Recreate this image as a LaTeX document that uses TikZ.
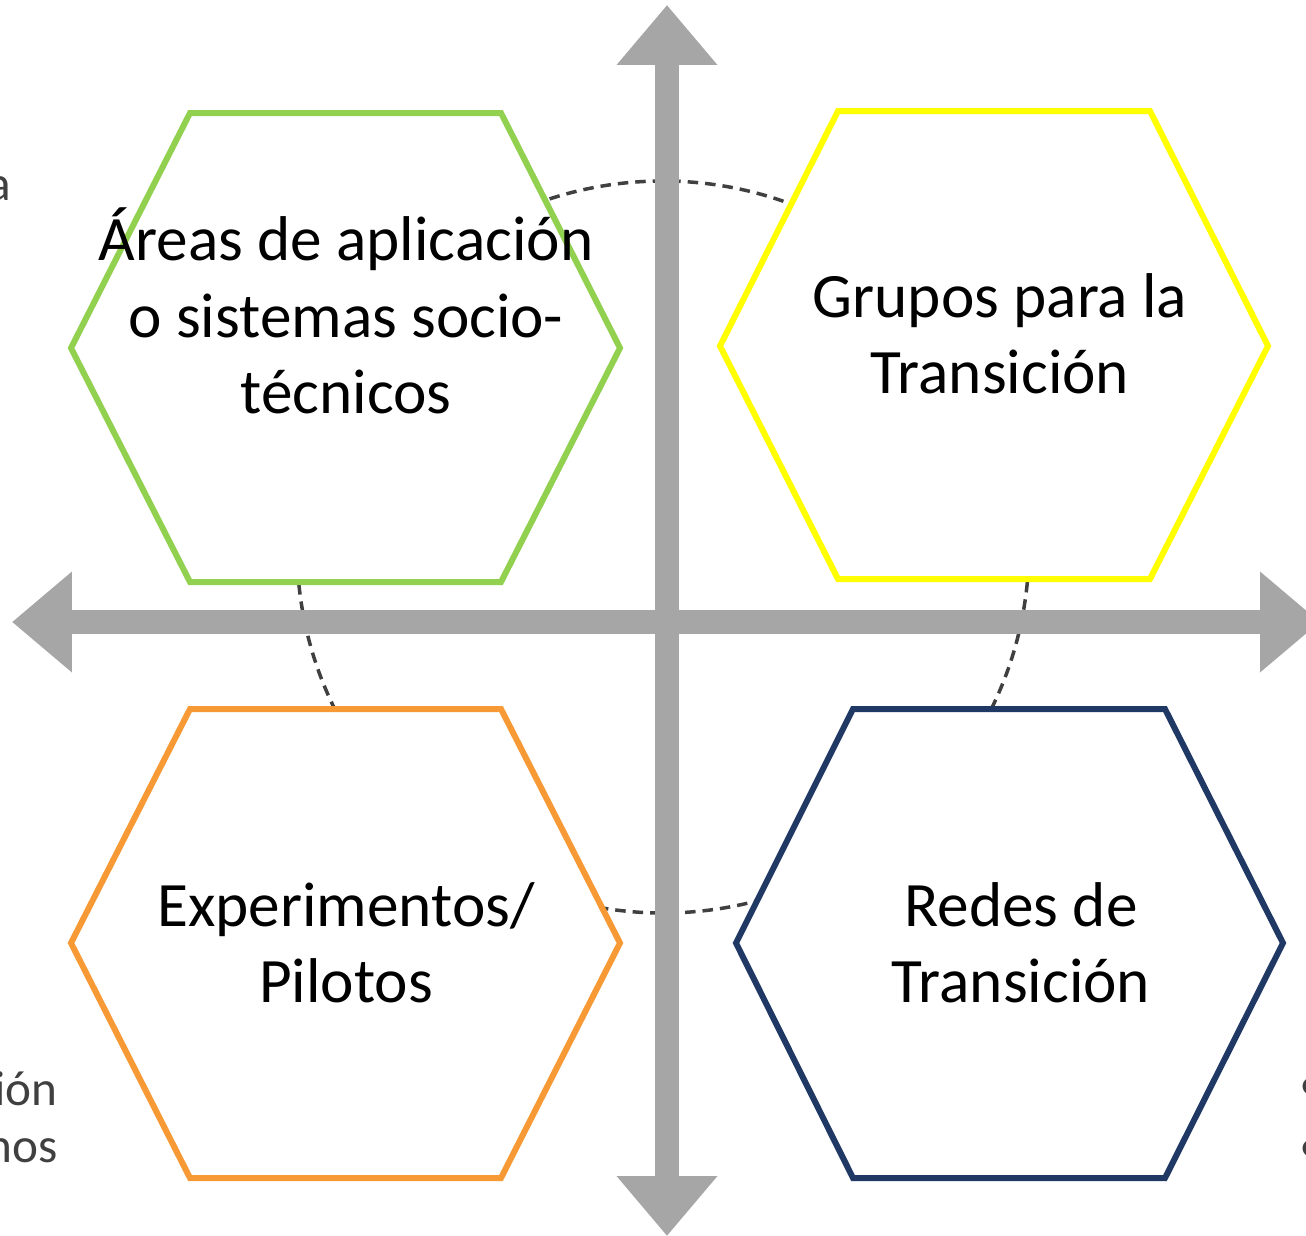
\documentclass[tikz,border=0pt]{standalone}
\usepackage{fontspec}
\setmainfont{Carlito}
\usetikzlibrary{arrows.meta}

\definecolor{hexgreen}{HTML}{92D050}
\definecolor{hexyellow}{HTML}{FFFF00}
\definecolor{hexorange}{RGB}{247,153,52}
\definecolor{hexnavy}{HTML}{1F3864}
\definecolor{axisgray}{HTML}{A6A6A6}
\definecolor{ringgray}{HTML}{404040}
\definecolor{sidegray}{HTML}{404040}

\begin{document}
\begin{tikzpicture}[
  x=0.02cm, y=-0.02cm,
  hexagon/.style={line width=0.12cm, fill=white, line join=miter},
  label/.style={align=center, inner sep=0pt, font=\fontsize{36}{43.5}\selectfont},
  side/.style={inner sep=0pt, text=sidegray, font=\fontsize{28}{34}\selectfont},
  axis/.style={line width=0.48cm, draw=axisgray,
    {Triangle[width=1.94cm, length=1.2cm]}-{Triangle[width=1.94cm, length=1.2cm]}},
  ring/.style={line width=0.07cm, draw=ringgray, dash pattern=on 0.21cm off 0.14cm}
]
\useasboundingbox (0,0) rectangle (1306,1235);

% --- Text left over at the edges ---
\node[side, anchor=base east] (sa) at (11,200) {a};
\node[side, anchor=base east] (sion) at (58,1105) {ión};
\node[side, anchor=base east] (snos) at (58,1162) {nos};
\node[side, anchor=base west] (sb1) at (1299,1100) {•};
\node[side, anchor=base west] (sb2) at (1299,1162) {•};

% --- Dashed ring ---
\coordinate (mid) at (663,547);
\draw[ring] (mid) circle[radius=366];

% --- Axes ---
\coordinate (top) at (667,5);
\coordinate (bottom) at (667,1236);
\coordinate (left) at (12,622);
\coordinate (right) at (1320,622);
\draw[axis] (top) -- (bottom);
\draw[axis] (left) -- (right);

% --- Hexagons ---
\draw[hexagon, draw=hexgreen] (190,113) -- (501,113) -- (620,348) -- (501,582) -- (190,582) -- (71,348) -- cycle;
\draw[hexagon, draw=hexyellow] (838,111) -- (1150,111) -- (1268,346) -- (1150,579) -- (838,579) -- (720,346) -- cycle;
\draw[hexagon, draw=hexorange] (190,709) -- (501,709) -- (620,943) -- (501,1178) -- (190,1178) -- (71,943) -- cycle;
\draw[hexagon, draw=hexnavy] (853,709) -- (1165,709) -- (1283,943) -- (1165,1178) -- (853,1178) -- (736,943) -- cycle;

% --- Labels ---
\node[label] (areas) at (346,311) {Áreas de aplicación\\o sistemas socio-\\técnicos};
\node[label] (grupos) at (1000,334) {Grupos para la\\Transición};
\node[label] (experimentos) at (346,943) {Experimentos/\\Pilotos};
\node[label] (redes) at (1021,943) {Redes de\\Transición};

\end{tikzpicture}
\end{document}
